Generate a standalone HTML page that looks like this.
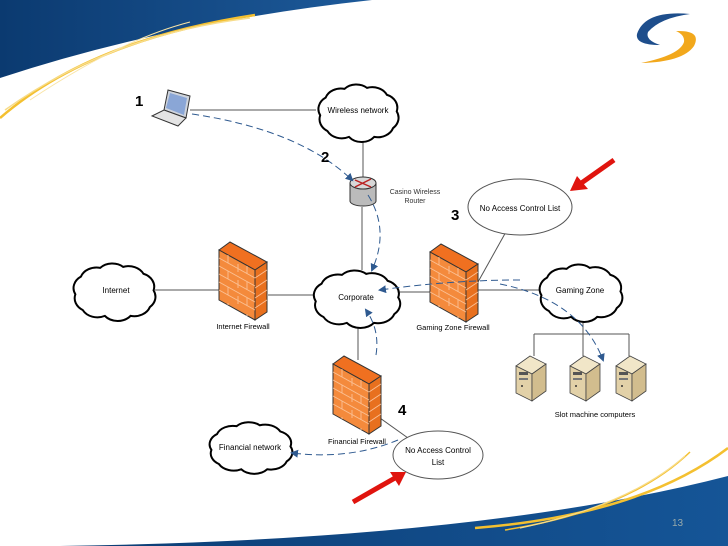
<!DOCTYPE html>
<html><head><meta charset="utf-8"><style>
html,body{margin:0;padding:0;background:#fff}
svg{display:block;font-family:"Liberation Sans",sans-serif}
</style></head><body>
<svg width="728" height="546" viewBox="0 0 728 546" xmlns="http://www.w3.org/2000/svg">
<defs>
<linearGradient id="bl" x1="0" y1="0" x2="1" y2="0"><stop offset="0" stop-color="#0b3a70"/><stop offset="1" stop-color="#1d5a9a"/></linearGradient>
<linearGradient id="bl2" x1="0" y1="0" x2="1" y2="0"><stop offset="0" stop-color="#0c3d74"/><stop offset="1" stop-color="#155597"/></linearGradient>
<path id="cloud" d="M8 34 A18 14 0 0 1 14 16 A18 14 0 0 1 35 7 A18 14 0 0 1 60 6 A18 14 0 0 1 82 13 A18 14 0 0 1 93 30 A18 14 0 0 1 89 47 A18 14 0 0 1 68 56 A18 14 0 0 1 40 56 A18 14 0 0 1 16 50 A18 14 0 0 1 8 34 Z" fill="#fff" stroke="#000" stroke-width="2" vector-effect="non-scaling-stroke"/>
<g id="fw">
<polygon points="0,8 11,0 48,20 36,28" fill="#f07020" stroke="#333" stroke-width="1"/>
<polygon points="0,8 36,28 36,78 0,58" fill="#f48a3c" stroke="#333" stroke-width="1"/>
<polygon points="36,28 48,20 48,70 36,78" fill="#e8701e" stroke="#333"/>
<g stroke="#fbc094" stroke-width="0.9">
<line x1="0" y1="16" x2="36" y2="36"/><line x1="0" y1="24" x2="36" y2="44"/><line x1="0" y1="32" x2="36" y2="52"/><line x1="0" y1="40" x2="36" y2="60"/><line x1="0" y1="48" x2="36" y2="68"/>
<line x1="9" y1="13" x2="9" y2="63" stroke-dasharray="8 8"/><line x1="19" y1="22" x2="19" y2="69" stroke-dasharray="8 8"/><line x1="28" y1="24" x2="28" y2="74" stroke-dasharray="8 8"/>
<line x1="36" y1="36" x2="48" y2="28"/><line x1="36" y1="46" x2="48" y2="38"/><line x1="36" y1="56" x2="48" y2="48"/><line x1="36" y1="66" x2="48" y2="58"/>
</g>
</g>
<g id="srv">
<polygon points="0,10 14,0 30,8 16,18" fill="#f1e6c8" stroke="#444" stroke-width="0.8"/>
<polygon points="0,10 16,18 16,45 0,37" fill="#e2d1a8" stroke="#444" stroke-width="0.8"/>
<polygon points="16,18 30,8 30,35 16,45" fill="#d2bd8e" stroke="#444" stroke-width="0.8"/>
<rect x="3" y="16" width="9" height="3" fill="#555"/><rect x="3" y="22" width="9" height="2" fill="#777"/><circle cx="6" cy="30" r="1" fill="#333"/>
</g>
<marker id="ah" markerWidth="8" markerHeight="8" refX="6" refY="4" orient="auto" markerUnits="userSpaceOnUse"><path d="M0 0 L8 4 L0 8 Z" fill="#2f5a90"/></marker>
</defs>

<path d="M0 0 L372 0 Q170 22 0 78 Z" fill="url(#bl)"/>
<path d="M0 118 Q90 40 255 15" stroke="#f4c030" stroke-width="2.5" fill="none"/>
<path d="M5 110 Q110 35 250 18" stroke="#f7dc8a" stroke-width="1.5" fill="none"/>
<path d="M30 100 Q120 40 190 22" stroke="#f9e4a6" stroke-width="1" fill="none"/>
<path d="M60 546 Q480 540 728 476 L728 546 Z" fill="url(#bl2)"/>
<path d="M475 528 Q640 515 728 448" stroke="#f4c030" stroke-width="2.5" fill="none"/>
<path d="M505 530 Q630 510 690 452" stroke="#f4c030" stroke-width="1.5" fill="none"/>
<path d="M520 528 Q630 505 685 456" stroke="#f7dc8a" stroke-width="1.2" fill="none"/>
<text x="672" y="526" font-size="10" fill="#9aa">13</text>
<path d="M690 14 Q645 10 637 34 Q635 45 660 45 Q645 40 648 32 Q660 18 690 14 Z" fill="#1e4e8c"/>
<path d="M676 31 Q702 30 694 46 Q683 62 641 63 Q680 55 684 42 Q685 35 676 31 Z" fill="#f2a81c"/>

<g stroke="#555" stroke-width="1" fill="none">
<line x1="190" y1="110" x2="316" y2="110"/>
<line x1="363" y1="138" x2="363" y2="180"/>
<line x1="362" y1="207" x2="362" y2="270"/>
<line x1="155" y1="290" x2="225" y2="290"/>
<line x1="268" y1="295" x2="313" y2="295"/>
<line x1="400" y1="292" x2="430" y2="292"/>
<line x1="478" y1="290" x2="540" y2="290"/>
<line x1="478" y1="282" x2="507" y2="230"/>
<line x1="583" y1="316" x2="583" y2="334"/>
<line x1="534" y1="334" x2="629" y2="334"/>
<line x1="534" y1="334" x2="534" y2="356"/><line x1="583" y1="334" x2="583" y2="356"/><line x1="629" y1="334" x2="629" y2="356"/>
<line x1="358" y1="324" x2="358" y2="360"/>
<line x1="380" y1="418" x2="408" y2="438"/>
</g>

<use href="#cloud" transform="translate(313,82) scale(0.9,0.98)"/>
<use href="#cloud" transform="translate(68,261) scale(0.92,0.98)"/>
<use href="#cloud" transform="translate(308,268) scale(0.97,0.98)"/>
<use href="#cloud" transform="translate(534,262) scale(0.93,0.98)"/>
<use href="#cloud" transform="translate(204,420) scale(0.93,0.88)"/>
<text x="358" y="113" font-size="8" text-anchor="middle">Wireless network</text>
<text x="116" y="293" font-size="8" text-anchor="middle">Internet</text>
<text x="356" y="300" font-size="8" text-anchor="middle">Corporate</text>
<text x="580" y="293" font-size="8" text-anchor="middle">Gaming Zone</text>
<text x="250" y="450" font-size="8" text-anchor="middle">Financial network</text>

<use href="#fw" transform="translate(219,242)"/>
<use href="#fw" transform="translate(430,244)"/>
<use href="#fw" transform="translate(333,356)"/>
<text x="243" y="329" font-size="7.5" text-anchor="middle">Internet Firewall</text>
<text x="453" y="330" font-size="7.5" text-anchor="middle">Gaming Zone Firewall</text>
<text x="357" y="444" font-size="7.5" text-anchor="middle">Financial Firewall</text>

<rect x="350" y="183" width="26" height="18" fill="#bbb" stroke="#333"/>
<ellipse cx="363" cy="201" rx="13" ry="5" fill="#bbb" stroke="#333"/>
<rect x="350.5" y="184" width="25" height="17" fill="#bbb"/>
<ellipse cx="363" cy="183" rx="13" ry="6" fill="#d8d8d8" stroke="#333"/>
<path d="M355 180 L371 187 M371 179 L355 187" stroke="#b22" stroke-width="1.5"/>
<text x="415" y="194" font-size="7" text-anchor="middle" fill="#333">Casino Wireless</text>
<text x="415" y="203" font-size="7" text-anchor="middle" fill="#333">Router</text>

<polygon points="168,90 190,96 186,118 164,110" fill="#cfd4dc" stroke="#333"/>
<polygon points="170,93 187,98 184,115 166,108" fill="#8aa6d6"/>
<polygon points="152,116 164,110 186,118 178,126" fill="#e4e4e4" stroke="#333"/>

<use href="#srv" transform="translate(516,356)"/>
<use href="#srv" transform="translate(570,356)"/>
<use href="#srv" transform="translate(616,356)"/>
<text x="595" y="417" font-size="7.5" text-anchor="middle">Slot machine computers</text>

<ellipse cx="520" cy="207" rx="52" ry="28" fill="#fff" stroke="#555"/>
<text x="520" y="211" font-size="8" text-anchor="middle">No Access Control List</text>
<ellipse cx="438" cy="455" rx="45" ry="24" fill="#fff" stroke="#555"/>
<text x="438" y="453" font-size="8" text-anchor="middle">No Access Control</text>
<text x="438" y="465" font-size="8" text-anchor="middle">List</text>

<g stroke="#2f5a90" stroke-width="1" fill="none" stroke-dasharray="7 4" marker-end="url(#ah)">
<path d="M192 114 Q300 130 352 180"/>
<path d="M368 195 Q390 230 372 270"/>
<path d="M520 280 Q450 280 380 290"/>
<path d="M500 284 Q580 300 603 360"/>
<path d="M376 355 Q380 330 366 310"/>
<path d="M398 440 Q350 460 292 453"/>
</g>

<g fill="#e0140e">
<line x1="614" y1="160" x2="580" y2="184" stroke="#e0140e" stroke-width="5"/>
<polygon points="570,191 577,176 588,189"/>
<line x1="353" y1="502" x2="395" y2="478" stroke="#e0140e" stroke-width="5"/>
<polygon points="406,472 390,472 399,486"/>
</g>

<g font-size="15" font-weight="bold">
<text x="135" y="106">1</text>
<text x="321" y="162">2</text>
<text x="451" y="220">3</text>
<text x="398" y="415">4</text>
</g>
</svg>
</body></html>
